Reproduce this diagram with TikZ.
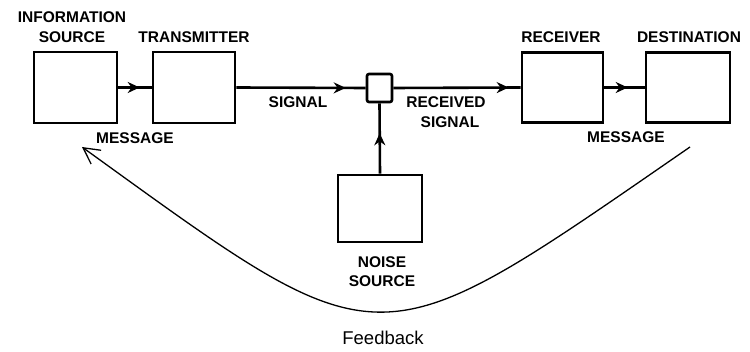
\documentclass[tikz,border=0pt]{standalone}
\usepackage{fontspec}
\setmainfont{Liberation Sans}
\usetikzlibrary{arrows.meta,decorations.markings}
\tikzset{
  blk/.style={draw, line width=2.6pt, minimum width=#1, inner sep=0pt},
  lbl/.style={anchor=base, font=\fontsize{15.5}{18}\selectfont\bfseries, inner sep=0pt},
  conn/.style={line width=2.6pt, decoration={markings, mark=at position #1 with {\arrow{Stealth[length=12pt,width=11pt]}}}, postaction={decorate}},
  fb/.style={line width=1.3pt, -{Straight Barb[length=16pt,width=17pt,line width=1.3pt]}}
}
\begin{document}
\begin{tikzpicture}[x=1pt,y=-1pt]
\useasboundingbox (0,0) rectangle (750,352);
% boxes
\node[blk=83pt, minimum height=71pt] (src) at (75.5,87.5) {};
\node[blk=82pt, minimum height=71pt] (tx) at (194,87.5) {};
\node[blk=25pt, minimum height=28pt, rounded corners=2pt] (sum) at (379.5,88) {};
\node[blk=81pt, minimum height=70pt] (rx) at (562.5,87.5) {};
\node[blk=84pt, minimum height=70pt] (dst) at (688,87.5) {};
\node[blk=84pt, minimum height=67pt] (noise) at (380,208.5) {};
% labels
\node[lbl] (l1) at (72,23) {INFORMATION};
\node[lbl] (l2) at (72,43) {SOURCE};
\node[lbl] (l3) at (194,43) {TRANSMITTER};
\node[lbl] (l4) at (135,144) {MESSAGE};
\node[lbl] (l5) at (298,108) {SIGNAL};
\node[lbl] (l6) at (446,108) {RECEIVED};
\node[lbl] (l7) at (450,127.5) {SIGNAL};
\node[lbl] (l8) at (561,43) {RECEIVER};
\node[lbl] (l9) at (689,43) {DESTINATION};
\node[lbl] (l10) at (626,142.5) {MESSAGE};
\node[lbl] (l11) at (382,267.5) {NOISE};
\node[lbl] (l12) at (382,287) {SOURCE};
\node[anchor=base, font=\fontsize{18.5}{22}\selectfont, inner sep=0pt] (fbl) at (383,345) {Feedback};
% connectors
\draw[conn=-12pt] (src.east) -- (tx.west);
\draw[conn=-20pt] (tx.east) -- (sum.west);
\draw[conn=-12pt] (sum.east) -- (rx.west);
\draw[conn=-17pt] (rx.east) -- (dst.west);
\draw[conn=-30pt] (noise.north) -- (sum.south);
% feedback
\coordinate (fbs) at (690,147);
\coordinate (fbe) at (82,147);
\draw[fb] (fbs) .. controls (371,367) and (387,367) .. (fbe);
\end{tikzpicture}
\end{document}
